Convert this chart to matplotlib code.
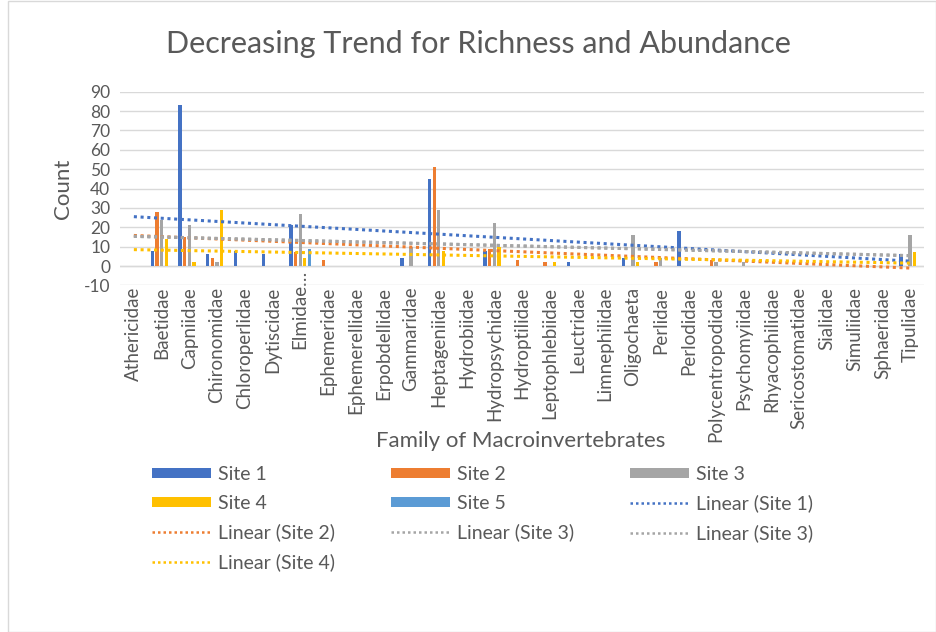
import numpy as np
import matplotlib
matplotlib.use("Agg")
import matplotlib.pyplot as plt
from matplotlib.patches import Rectangle, Patch
from matplotlib.lines import Line2D

# Macroinvertebrate families (x categories)
families = ["Athericidae", "Baetidae", "Capniidae", "Chironomidae", "Chloroperlidae",
            "Dytiscidae", "Elmidae…", "Ephemeridae", "Ephemerellidae", "Erpobdellidae",
            "Gammaridae", "Heptageniidae", "Hydrobiidae", "Hydropsychidae", "Hydroptilidae",
            "Leptophlebiidae", "Leuctridae", "Limnephilidae", "Oligochaeta", "Perlidae",
            "Perlodidae", "Polycentropodidae", "Psychomyiidae", "Rhyacophilidae",
            "Sericostomatidae", "Sialidae", "Simuliidae", "Sphaeridae", "Tipulidae"]

# Counts per site (None = empty cell, 0 = recorded zero)
N = None
site1 = [N, 8, 83, 6, 8, 6, 21, N, N, N, 4, 45, N, 8, N, N, 2, N, 4, N, 18, N, N, N, N, N, N, N, 6]
site2 = [N, 28, 15, 4, N, N, 7, 3, 0, N, 0, 51, N, 9, 3, 2, N, N, N, 2, N, 3, N, N, N, N, N, N, N]
site3 = [N, 24, 21, 2, N, N, 27, N, 0, 0, 10, 29, 0, 22, 0, N, N, N, 16, 4, N, 2, 2, N, N, N, N, N, 16]
site4 = [N, 14, 2, 29, N, 0, 4, N, 0, 0, 0, 8, N, 10, N, 2, N, N, 2, N, N, N, N, N, N, N, N, N, 7]
site5 = [N, N, N, N, N, N, 9, N, N, N, N, N, N, N, N, N, N, N, N, N, N, N, N, N, N, N, N, N, N]

series_names = ["Site 1", "Site 2", "Site 3", "Site 4", "Site 5"]
series_data = [site1, site2, site3, site4, site5]
colors = ["#4472C4", "#ED7D31", "#A5A5A5", "#FFC000", "#5B9BD5"]
# Linear trendlines (Site 3 carries two identical ones)
trend_sites = [0, 1, 2, 2, 3]
trend_labels = ["Linear (Site 1)", "Linear (Site 2)", "Linear (Site 3)",
                "Linear (Site 3)", "Linear (Site 4)"]

yticks = list(range(-10, 91, 10))

font = "Lato"
text_col = "#595959"
dots = (0, (1.0, 1.2))

fig = plt.figure(figsize=(9.37, 6.32), dpi=100)
fig.patch.set_facecolor("white")
# chart area border
fig.add_artist(Rectangle((8 / 937, 0.0), 928 / 937, 0.999, transform=fig.transFigure,
                         fill=False, edgecolor="#D9D9D9", linewidth=1.0))

ax = fig.add_axes([120 / 937, 1 - 285.4 / 632, 804 / 937, (285.4 - 91.7) / 632])
ax.set_facecolor("white")

n = len(families)
x = np.arange(n)
width = 0.12
step = 0.166

bar_handles = []
for i, (name, vals, c) in enumerate(zip(series_names, series_data, colors)):
    v = np.array([np.nan if a is None else a for a in vals], dtype=float)
    ax.bar(x + (i - 2) * step, np.nan_to_num(v), width=width, color=c, zorder=2)
    bar_handles.append(Patch(facecolor=c, edgecolor="none", label=name))

# least-squares trendlines over category index, empty cells skipped
trend_handles = []
for s, lab in zip(trend_sites, trend_labels):
    v = np.array([np.nan if a is None else a for a in series_data[s]], dtype=float)
    xi = np.arange(1, n + 1)
    m = ~np.isnan(v)
    k, b = np.polyfit(xi[m], v[m], 1)
    ax.plot(x, k * xi + b, color=colors[s], linewidth=2.2, linestyle=dots, zorder=3)
    trend_handles.append(Line2D([], [], color=colors[s], linewidth=1.8,
                                linestyle=dots, label=lab))

ax.set_xlim(-0.5, n - 0.5)
ax.set_ylim(-10, 90)
ax.set_yticks(yticks)
ax.set_yticklabels([str(t) for t in yticks], fontfamily=font, fontsize=12.5, color=text_col)
ax.set_xticks(x)
ax.set_xticklabels(families, rotation=90, fontfamily=font, fontsize=13.5, color=text_col)
ax.tick_params(axis="y", length=0, pad=7)
ax.tick_params(axis="x", length=0, pad=1)
ax.grid(axis="y", color="#D9D9D9", linewidth=1.0, zorder=0)
ax.axhline(0, color="#D9D9D9", linewidth=1.0, zorder=1)
for sp in ax.spines.values():
    sp.set_visible(False)

# truncated label sits a little higher
ax.get_xticklabels()[6].set_y(0.09)

ax.set_ylabel("Count", fontfamily=font, fontsize=16, color=text_col, labelpad=8)
fig.text(521 / 937, 1 - 441 / 632, "Family of Macroinvertebrates", ha="center", va="center",
         fontfamily=font, fontsize=16, color=text_col)
fig.text(478 / 937, 1 - 44 / 632, "Decreasing Trend for Richness and Abundance",
         ha="center", va="center", fontfamily=font, fontsize=22, color=text_col)

h = bar_handles + trend_handles
# row-major order for three columns
order = [0, 3, 6, 9, 1, 4, 7, 2, 5, 8]
hs = [h[i] for i in order]
leg = fig.legend(handles=hs, labels=[a.get_label() for a in hs], ncol=3,
                 loc="upper left", bbox_to_anchor=(152 / 937, 1 - 466 / 632),
                 frameon=False, prop={"family": font, "size": 14},
                 borderpad=0, borderaxespad=0,
                 handlelength=3.05, handleheight=0.45, handletextpad=0.36,
                 columnspacing=2.85, labelspacing=0.6)
for t in leg.get_texts():
    t.set_color(text_col)

fig.savefig("out.png", dpi=100, facecolor="white")
